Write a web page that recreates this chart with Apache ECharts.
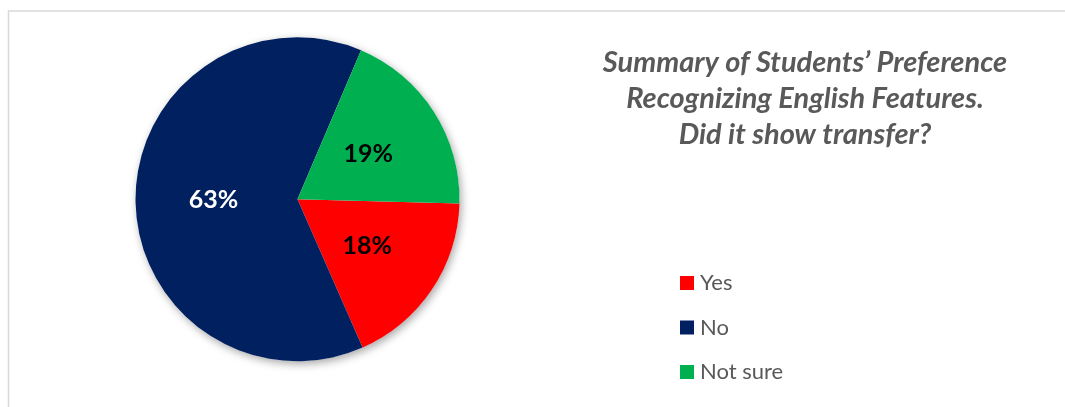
<!DOCTYPE html>
<html>
<head>
<meta charset="utf-8">
<script src="https://cdn.jsdelivr.net/npm/echarts@6/dist/echarts.min.js"></script>
<style>
  html, body { margin: 0; padding: 0; background: #ffffff; }
  #chart { width: 1065px; height: 407px; }
</style>
</head>
<body>
<div id="chart"></div>
<script>
// Survey answers and their shares (percent)
const categories = ['Yes', 'No', 'Not sure'];
const shares = [18, 63, 19];
const sliceColors = ['#FF0000', '#002060', '#00B050'];
const labelColors = ['#000000', '#FFFFFF', '#000000'];
const titleText = 'Summary of Students\u2019 Preference\nRecognizing English Features.\nDid it show transfer?';

const chart = echarts.init(document.getElementById('chart'), null, { renderer: 'canvas' });

const pieCenter = [297.5, 199.2];
const pieRadius = 162;

chart.setOption({
  animation: false,
  backgroundColor: '#ffffff',
  graphic: [{
    type: 'rect',
    shape: { x: 8.5, y: 11, width: 1100, height: 500 },
    style: { fill: 'none', stroke: '#d9d9d9', lineWidth: 1.5 },
    silent: true,
    z: -10
  }],
  title: {
    text: titleText,
    left: 800,
    top: 40,
    textAlign: 'center',
    textStyle: {
      fontFamily: 'Lato',
      fontStyle: 'italic',
      fontWeight: 'bold',
      fontSize: 29,
      lineHeight: 36,
      color: '#595959'
    }
  },
  legend: {
    data: categories,
    orient: 'vertical',
    left: 680,
    top: 272,
    padding: 0,
    itemWidth: 14,
    itemHeight: 14,
    itemGap: 22.5,
    icon: 'rect',
    textStyle: {
      fontFamily: 'Lato',
      fontSize: 22,
      lineHeight: 22,
      color: '#595959',
      padding: [0, 0, 0, 1]
    },
    selectedMode: false
  },
  series: [
    {
      // soft drop shadow behind the whole pie
      type: 'pie',
      center: pieCenter,
      radius: pieRadius,
      silent: true,
      z: 1,
      label: { show: false },
      labelLine: { show: false },
      itemStyle: {
        color: '#ffffff',
        shadowBlur: 9,
        shadowOffsetX: 2,
        shadowOffsetY: 3,
        shadowColor: 'rgba(0,0,0,0.35)'
      },
      data: [{ value: 1, name: '' }]
    },
    {
      type: 'pie',
      center: pieCenter,
      radius: pieRadius,
      startAngle: -1.5,
      clockwise: true,
      z: 2,
      itemStyle: { borderWidth: 0 },
      label: {
        show: true,
        position: 'inside',
        formatter: '{c}%',
        fontFamily: 'Lato',
        fontWeight: 'bold',
        fontSize: 25
      },
      labelLine: { show: false },
      emphasis: { disabled: true },
      data: categories.map((name, i) => ({
        name: name,
        value: shares[i],
        itemStyle: { color: sliceColors[i] },
        label: { color: labelColors[i] }
      }))
    }
  ]
});
</script>
</body>
</html>
